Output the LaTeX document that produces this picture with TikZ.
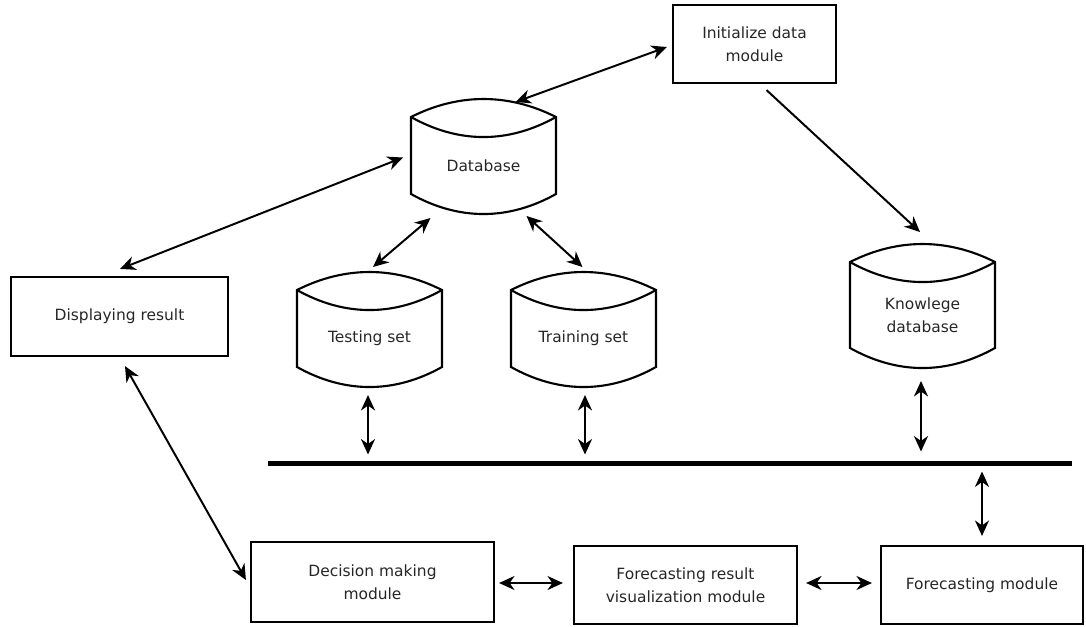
\documentclass[tikz,border=0pt]{standalone}
\usepackage{fontspec}
\setmainfont{DejaVu Sans}
\usetikzlibrary{arrows.meta,calc}

\newcommand{\drawstore}[1]{%
  \draw[-,line width=1.5pt] ($(#1.north west)+(0,-20)$)
    .. controls ($(#1.north west)+(47.7,-44)$) and ($(#1.north east)+(-47.7,-44)$) .. ($(#1.north east)+(0,-20)$)
    -- (#1.south east)
    .. controls ($(#1.south east)+(-47.7,26.7)$) and ($(#1.south west)+(47.7,26.7)$) .. (#1.south west)
    -- cycle;
  \draw[-,line width=1.5pt] ($(#1.north west)+(0,-20)$)
    .. controls ($(#1.north west)+(47.7,6.7)$) and ($(#1.north east)+(-47.7,6.7)$) .. ($(#1.north east)+(0,-20)$);}

\begin{document}
\begin{tikzpicture}[x=0.025cm,y=-0.025cm,<->,line width=1.4pt,
  >={Stealth[length=11pt,width=10pt,inset=3.5pt]},
  every node/.style={font=\fontsize{11}{16}\selectfont,align=center,inner sep=0pt,text=black!85},
  box/.style={draw=black,line width=1.5pt},
  store/.style={minimum width=3.575cm,minimum height=1.375cm}]
\useasboundingbox (0,0) rectangle (1086,626);

% boxes
\node[box,minimum width=4.075cm,minimum height=1.95cm] (Init) at (754.5,44) {Initialize data\\module};
\node[box,minimum width=5.425cm,minimum height=1.975cm] (Display) at (119.5,316.5) {Displaying result};
\node[box,minimum width=6.075cm,minimum height=2cm] (Decision) at (372.5,582) {Decision making\\module};
\node[box,minimum width=5.575cm,minimum height=1.95cm] (Visual) at (685.5,585) {Forecasting result\\visualization module};
\node[box,minimum width=5.05cm,minimum height=1.95cm] (Forecast) at (982,585) {Forecasting module};

% stores
\node[store] (Database) at (483.5,165.5) {Database};
\node[store] (Testing) at (369.5,338.5) {Testing set};
\node[store] (Training) at (583.5,338.5) {Training set};
\node[store,minimum height=1.6cm] (Knowledge) at (922.5,315) {Knowlege\\database};
\foreach \s in {Database,Testing,Training,Knowledge}
  \drawstore{\s};

% bus
\node[fill=black,minimum width=20.1cm,minimum height=0.125cm] (Bus) at (670,463) {};

% links
\draw ($(Init.west)+(-5,3)$) -- ($(Database.north)+(32,-35)$);
\draw ($(Database.west)+(-8,-8)$) -- ($(Display.north)+(0.5,-7)$);
\draw ($(Database.south)+(-53,24)$) -- ($(Testing.north)+(3.5,-43)$);
\draw ($(Database.south)+(43,22)$) -- ($(Training.north)+(-1,-43)$);
\draw[->] ($(Init.south)+(12,6)$) -- ($(Knowledge.north)+(-2.5,-50)$);
\draw ($(Display.south)+(5.5,9)$) -- ($(Decision.west)+(-4,-2)$);
\draw ($(Testing.south)+(-1.5,28)$) -- ($(Testing.south |- Bus.north)+(-1.5,-5)$);
\draw ($(Training.south)+(1.5,28)$) -- ($(Training.south |- Bus.north)+(1.5,-5)$);
\draw ($(Knowledge.south)+(-1.5,33)$) -- ($(Knowledge.south |- Bus.north)+(-1.5,-8)$);
\draw ($(Forecast.north |- Bus.south)+(0,5)$) -- ($(Forecast.north)+(0,-9)$);
\draw ($(Decision.east)+(4,1)$) -- ($(Visual.west)+(-10,-2)$);
\draw ($(Visual.east)+(8,-2)$) -- ($(Forecast.west)+(-8,-2)$);
\end{tikzpicture}
\end{document}
